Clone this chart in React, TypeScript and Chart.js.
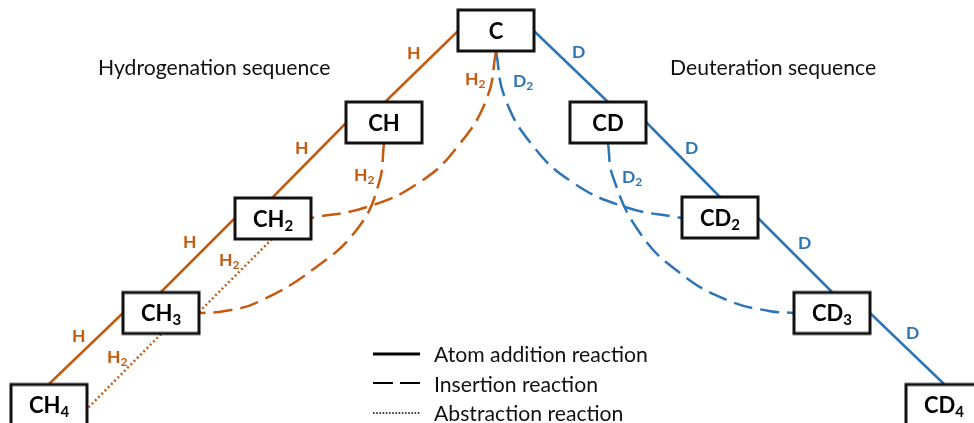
import React, { useEffect, useRef } from "react";
import { Chart, registerables } from "chart.js";

Chart.register(...registerables);

const ORANGE = "#C55A11";
const BLUE = "#2E75B6";
const FONT = "Lato, Carlito, 'Open Sans', sans-serif";

// Species boxes (centre positions in diagram units)
const nodeNames = ["C", "CH", "CH2", "CH3", "CH4", "CD", "CD2", "CD3", "CD4"];
const nodeX = [496, 384, 273, 161, 49, 608, 720, 832, 944];
const nodeY = [30.5, 122.5, 218.5, 313, 405, 122.5, 217.5, 313, 405];

// Straight atom-addition links
const addH1X = [458, 385], addH1Y = [31, 102];
const addH2X = [346, 272], addH2Y = [123, 198];
const addH3X = [235, 161], addH3Y = [218, 292];
const addH4X = [123, 49], addH4Y = [313, 384];
const addD1X = [534, 608], addD1Y = [31, 102];
const addD2X = [646, 720], addD2Y = [122, 197];
const addD3X = [758, 832], addD3Y = [218, 292];
const addD4X = [870, 944], addD4Y = [313, 384];

// Abstraction links
const absH1X = [272, 199], absH1Y = [239, 312];
const absH2X = [161, 87], absH2Y = [334, 409];

// Insertion curves
const insH1X = [496, 487, 458, 420, 367, 311];
const insH1Y = [51, 98, 146, 182, 207, 218];
const insH2X = [384, 379, 358, 315, 258, 225, 199];
const insH2Y = [143, 183, 228, 268, 302, 311, 313];
const insD1X = [496, 505, 533, 572, 625, 682];
const insD1Y = [51, 98, 146, 182, 207, 218];
const insD2X = [608, 613, 640, 680, 727, 769, 794];
const insD2Y = [143, 177, 233, 273, 300, 311, 313];

// Key
const keySolidX = [373, 420], keySolidY = [354, 354];
const keyDashX = [373, 420], keyDashY = [383, 383];
const keyDotX = [373, 420], keyDotY = [413, 413];
const keyLabels = ["Atom addition reaction", "Insertion reaction", "Abstraction reaction"];
const keyLabelX = [434, 434, 434];
const keyLabelY = [362, 392, 421];

// Headings
const headings = ["Hydrogenation sequence", "Deuteration sequence"];
const headingX = [98, 670];
const headingY = [75, 75];

// Reaction labels
const rxnNames = ["H", "H", "H", "H", "D", "D", "D", "D", "H2", "H2", "H2", "H2", "D2", "D2"];
const rxnX = [407, 295, 183, 72, 572, 685, 798, 906, 465, 354, 219, 107, 513, 622];
const rxnY = [59, 154, 248, 342, 58, 154, 249, 339, 85, 181, 266, 363, 87, 183];
const rxnColors = [ORANGE, ORANGE, ORANGE, ORANGE, BLUE, BLUE, BLUE, BLUE, ORANGE, ORANGE, ORANGE, ORANGE, BLUE, BLUE];

const toPoints = (xs: number[], ys: number[]) => xs.map((x, i) => ({ x, y: ys[i] }));

function line(xs: number[], ys: number[], color: string, width: number, dash: number[], curved = false) {
  return {
    data: toPoints(xs, ys),
    showLine: true,
    borderColor: color,
    borderWidth: width,
    borderDash: dash,
    pointRadius: 0,
    tension: curved ? 0.45 : 0,
    order: 2,
  };
}

function boxImage() {
  const w = 76, h = 41, lw = 3, pad = 3;
  const c = document.createElement("canvas");
  c.width = w + pad * 2;
  c.height = h + pad * 2;
  const g = c.getContext("2d")!;
  g.fillStyle = "#ffffff";
  g.fillRect(pad, pad, w, h);
  g.strokeStyle = "#111111";
  g.lineWidth = lw;
  g.strokeRect(pad, pad, w, h);
  return c;
}

function drawRich(g: CanvasRenderingContext2D, text: string, x: number, y: number, size: number, subSize: number, subDrop: number, centered: boolean) {
  const m = text.match(/^([A-Za-z]+)(\d*)$/);
  const main = m ? m[1] : text;
  const sub = m ? m[2] : "";
  g.font = `bold ${size}px ${FONT}`;
  const mw = g.measureText(main).width;
  g.font = `bold ${subSize}px ${FONT}`;
  const sw = sub ? g.measureText(sub).width : 0;
  const x0 = centered ? x - (mw + sw) / 2 : x;
  g.font = `bold ${size}px ${FONT}`;
  g.fillText(main, x0, y);
  if (sub) {
    g.font = `bold ${subSize}px ${FONT}`;
    g.fillText(sub, x0 + mw, y + subDrop);
  }
}

const textPlugin = {
  id: "diagramText",
  afterDatasetsDraw(chart: any) {
    const g: CanvasRenderingContext2D = chart.ctx;
    const sx = chart.scales.x;
    const sy = chart.scales.y;
    g.save();
    g.textBaseline = "alphabetic";
    g.textAlign = "left";
    g.fillStyle = "#000000";
    nodeNames.forEach((n, i) => {
      drawRich(g, n, sx.getPixelForValue(nodeX[i]), sy.getPixelForValue(nodeY[i] + 8), 22, 15, 4, true);
    });
    rxnNames.forEach((n, i) => {
      g.fillStyle = rxnColors[i];
      drawRich(g, n, sx.getPixelForValue(rxnX[i]), sy.getPixelForValue(rxnY[i]), 17.5, 12, 3, false);
    });
    g.fillStyle = "#111111";
    g.font = `21.2px ${FONT}`;
    headings.forEach((t, i) => g.fillText(t, sx.getPixelForValue(headingX[i]), sy.getPixelForValue(headingY[i])));
    keyLabels.forEach((t, i) => g.fillText(t, sx.getPixelForValue(keyLabelX[i]), sy.getPixelForValue(keyLabelY[i])));
    g.restore();
  },
};

export default function App() {
  const ref = useRef<HTMLCanvasElement>(null);
  useEffect(() => {
    const chart = new Chart(ref.current!, {
      type: "scatter",
      data: {
        datasets: [
          {
            data: toPoints(nodeX, nodeY),
            pointStyle: boxImage() as any,
            pointRadius: 1,
            showLine: false,
            order: 1,
            clip: false,
          },
          line(addH1X, addH1Y, ORANGE, 2.5, []),
          line(addH2X, addH2Y, ORANGE, 2.5, []),
          line(addH3X, addH3Y, ORANGE, 2.5, []),
          line(addH4X, addH4Y, ORANGE, 2.5, []),
          line(addD1X, addD1Y, BLUE, 2.5, []),
          line(addD2X, addD2Y, BLUE, 2.5, []),
          line(addD3X, addD3Y, BLUE, 2.5, []),
          line(addD4X, addD4Y, BLUE, 2.5, []),
          line(absH1X, absH1Y, ORANGE, 2.5, [2, 2.6]),
          line(absH2X, absH2Y, ORANGE, 2.5, [2, 2.6]),
          line(insH1X, insH1Y, ORANGE, 2.5, [19, 8], true),
          line(insH2X, insH2Y, ORANGE, 2.5, [19, 8], true),
          line(insD1X, insD1Y, BLUE, 2.5, [19, 8], true),
          line(insD2X, insD2Y, BLUE, 2.5, [19, 8], true),
          line(keySolidX, keySolidY, "#000000", 2.8, []),
          line(keyDashX, keyDashY, "#000000", 2, [20, 7]),
          line(keyDotX, keyDotY, "#000000", 1.6, [1.6, 1.6]),
        ] as any,
      },
      options: {
        responsive: false,
        animation: false,
        events: [],
        layout: { padding: 0, autoPadding: false },
        plugins: { legend: { display: false }, tooltip: { enabled: false } },
        scales: {
          x: { type: "linear", display: false, min: 0, max: 974 },
          y: { type: "linear", display: false, min: 0, max: 423, reverse: true },
        },
      },
      plugins: [textPlugin],
    });
    return () => chart.destroy();
  }, []);
  return (
    <div style={{ position: "absolute", left: 0, top: 0, width: 974, height: 423, background: "#fff" }}>
      <canvas ref={ref} width={974} height={423} style={{ display: "block" }} />
    </div>
  );
}
